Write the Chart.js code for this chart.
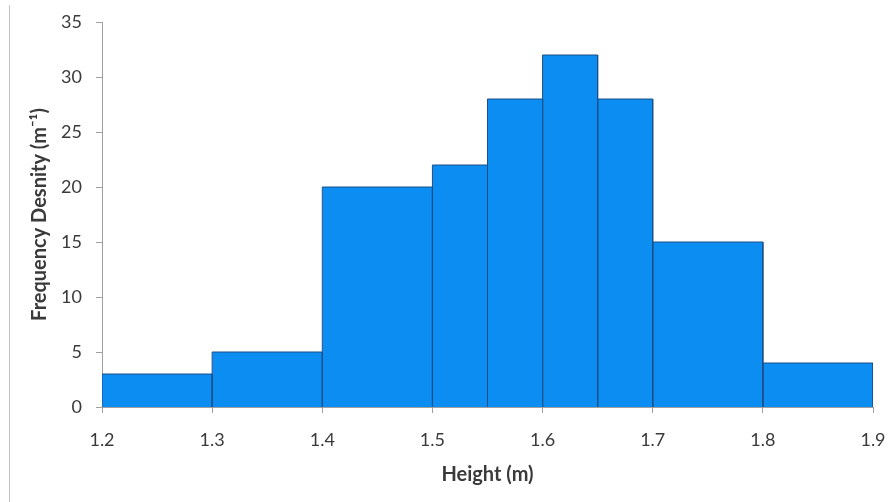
<!DOCTYPE html>
<html>
<head>
<meta charset="utf-8">
<script src="https://cdn.jsdelivr.net/npm/chart.js@4"></script>
<style>
  body { margin: 0; background: #fff; }
  #wrap { position: relative; width: 892px; height: 502px; }
  #edge { position: absolute; left: 9px; top: 5px; bottom: 0; width: 1px; background: #c4c4c4; }
</style>
</head>
<body>
<div id="wrap">
  <div id="edge"></div>
  <canvas id="histChart" width="892" height="502"></canvas>
</div>
<script>
// Histogram - Frequency density against height
const binEdges = [1.2, 1.3, 1.4, 1.5, 1.55, 1.6, 1.65, 1.7, 1.8, 1.9]; // class boundaries (m)
const density = [3, 5, 20, 22, 28, 32, 28, 15, 4]; // frequency density per class
const xTicks = [1.2, 1.3, 1.4, 1.5, 1.6, 1.7, 1.8, 1.9];
const yTicks = [0, 5, 10, 15, 20, 25, 30, 35];

const fillColor = '#0b8df2';
const edgeColor = '#1d4f86';
const axisColor = '#a0a0a0';
const textColor = '#3a3a3a';

// one closed outline per class, so bars can have different widths
const barSets = density.map((d, i) => ({
    data: [
        { x: binEdges[i], y: 0 },
        { x: binEdges[i], y: d },
        { x: binEdges[i + 1], y: d },
        { x: binEdges[i + 1], y: 0 }
    ],
    fill: 'origin',
    backgroundColor: fillColor,
    borderColor: edgeColor,
    borderWidth: 1,
    pointRadius: 0,
    tension: 0
}));

const ctx = document.getElementById('histChart').getContext('2d');
const histChart = new Chart(ctx, {
    type: 'line',
    data: { datasets: barSets },
    options: {
        responsive: false,
        animation: false,
        layout: { padding: { top: 22, right: 19, left: 0, bottom: 11 } },
        plugins: { legend: { display: false }, tooltip: { enabled: false } },
        scales: {
            x: {
                type: 'linear',
                min: xTicks[0],
                max: xTicks[xTicks.length - 1],
                afterBuildTicks: s => { s.ticks = xTicks.map(v => ({ value: v })); },
                afterFit: s => { s.height = 84; s.paddingRight = 0; s.paddingLeft = 0; },
                grid: { drawOnChartArea: false, tickLength: 6, color: axisColor },
                border: { color: axisColor },
                ticks: {
                    padding: 16,
                    color: textColor,
                    font: { family: 'Lato', size: 18 },
                    callback: v => v.toFixed(1)
                },
                title: {
                    display: true,
                    text: 'Height (m)',
                    color: textColor,
                    font: { family: 'Lato', size: 20, weight: 'bold' },
                    padding: { top: 10 }
                }
            },
            y: {
                min: yTicks[0],
                max: yTicks[yTicks.length - 1],
                afterBuildTicks: s => { s.ticks = yTicks.map(v => ({ value: v })); },
                afterFit: s => { s.width = 102; s.paddingTop = 0; s.paddingBottom = 0; },
                grid: { drawOnChartArea: false, tickLength: 6, color: axisColor },
                border: { color: axisColor },
                ticks: {
                    padding: 14,
                    color: textColor,
                    font: { family: 'Lato', size: 18 }
                },
                title: {
                    display: true,
                    text: 'Frequency Desnity (m\u207B\u00B9)',
                    color: textColor,
                    font: { family: 'Lato', size: 20, weight: 'bold' },
                    padding: { top: 28, bottom: 0 }
                }
            }
        }
    }
});
</script>
</body>
</html>
